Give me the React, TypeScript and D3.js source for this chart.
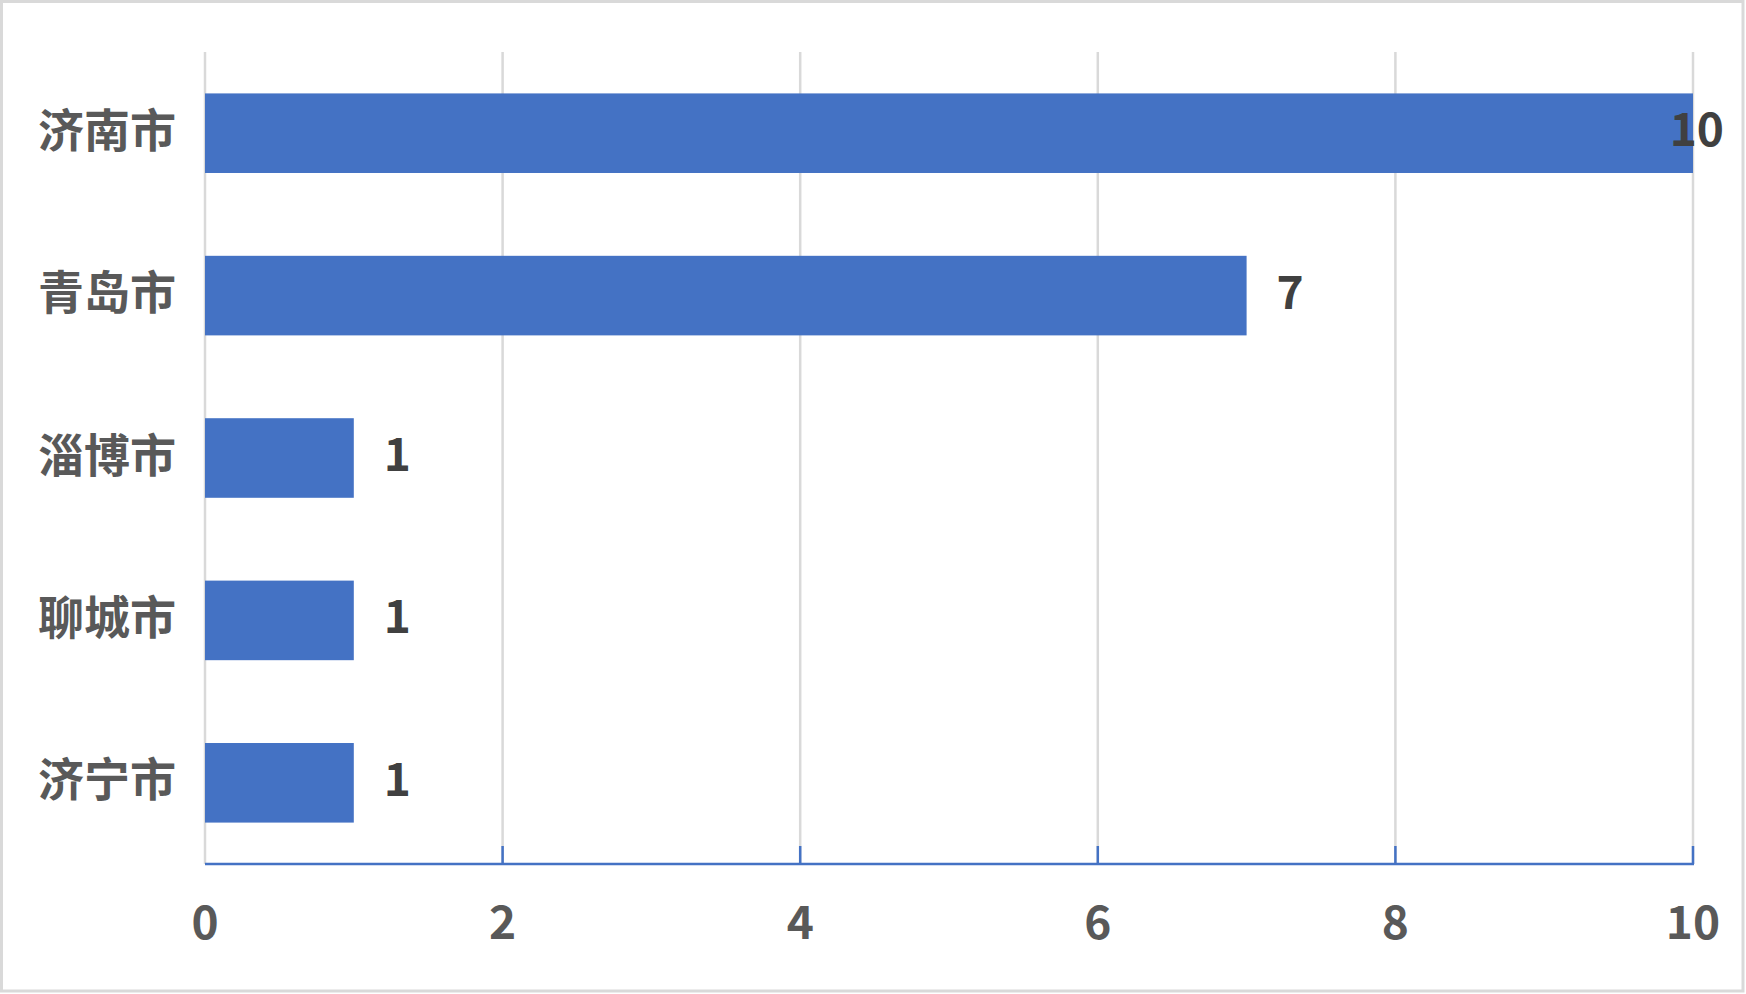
import * as d3 from "d3";
import React, { useEffect, useRef } from "react";

const cities = ["济南市", "青岛市", "淄博市", "聊城市", "济宁市"];
const counts = [10, 7, 1, 1, 1];
const xTicks = [0, 2, 4, 6, 8, 10];

const W = 1746;
const H = 994;
const FONT = "'Noto Sans CJK SC', 'Noto Sans', sans-serif";

export default function App() {
  const ref = useRef<SVGSVGElement>(null);

  useEffect(() => {
    document.body.style.margin = "0";
    const svg = d3.select(ref.current);
    svg.selectAll("*").remove();

    // outer frame
    svg
      .append("rect")
      .attr("x", 1.5)
      .attr("y", 1.5)
      .attr("width", W - 4.5)
      .attr("height", H - 4.5)
      .attr("fill", "white")
      .attr("stroke", "#d9d9d9")
      .attr("stroke-width", 3);

    const plot = { left: 205, right: 1693, top: 52, bottom: 864 };

    const x = d3.scaleLinear().domain([0, 10]).range([plot.left, plot.right]);
    const y = d3
      .scaleBand()
      .domain(cities)
      .range([plot.top, plot.bottom])
      .paddingInner(0.51)
      .paddingOuter(0.255);

    // vertical gridlines
    svg
      .append("g")
      .selectAll("line")
      .data(xTicks)
      .enter()
      .append("line")
      .attr("x1", (d) => x(d))
      .attr("x2", (d) => x(d))
      .attr("y1", plot.top)
      .attr("y2", plot.bottom)
      .attr("stroke", "#d9d9d9")
      .attr("stroke-width", 2.5);

    // bars
    svg
      .append("g")
      .selectAll("rect")
      .data(cities)
      .enter()
      .append("rect")
      .attr("x", x(0))
      .attr("y", (d) => y(d))
      .attr("width", (d, i) => x(counts[i]) - x(0))
      .attr("height", y.bandwidth())
      .attr("fill", "#4472c4");

    // x axis line + inner ticks (none at the origin)
    const ax = svg.append("g");
    ax.append("line")
      .attr("x1", plot.left)
      .attr("x2", plot.right + 1)
      .attr("y1", plot.bottom)
      .attr("y2", plot.bottom)
      .attr("stroke", "#4472c4")
      .attr("stroke-width", 2.5);
    ax.selectAll("line.tick")
      .data(xTicks.filter((d) => d > 0))
      .enter()
      .append("line")
      .attr("class", "tick")
      .attr("x1", (d) => x(d))
      .attr("x2", (d) => x(d))
      .attr("y1", plot.bottom - 18)
      .attr("y2", plot.bottom)
      .attr("stroke", "#4472c4")
      .attr("stroke-width", 2.5);

    // tick labels
    svg
      .append("g")
      .selectAll("text")
      .data(xTicks)
      .enter()
      .append("text")
      .attr("x", (d) => x(d))
      .attr("y", 918.5)
      .attr("text-anchor", "middle")
      .attr("dominant-baseline", "central")
      .attr("font-family", FONT)
      .attr("font-weight", "bold")
      .attr("font-size", 46)
      .attr("fill", "#595959")
      .text((d) => d);

    // category labels
    svg
      .append("g")
      .selectAll("text")
      .data(cities)
      .enter()
      .append("text")
      .attr("x", 176)
      .attr("y", (d) => y(d)! + y.bandwidth() / 2 - 6.5)
      .attr("text-anchor", "end")
      .attr("dominant-baseline", "central")
      .attr("font-family", FONT)
      .attr("font-weight", "bold")
      .attr("font-size", 46)
      .attr("fill", "#595959")
      .text((d) => d);

    // value labels (pushed back inside when they would leave the chart)
    const maxRight = 1724;
    svg
      .append("g")
      .selectAll("text")
      .data(cities)
      .enter()
      .append("text")
      .each(function (d, i) {
        const label = String(counts[i]);
        const start = x(counts[i]) + 30;
        const est = label.length * 0.55 * 46;
        const sel = d3.select(this);
        if (start + est > maxRight) {
          sel.attr("x", maxRight).attr("text-anchor", "end");
        } else {
          sel.attr("x", start).attr("text-anchor", "start");
        }
        sel.text(label);
      })
      .attr("y", (d) => y(d)! + y.bandwidth() / 2 - 7)
      .attr("dominant-baseline", "central")
      .attr("font-family", FONT)
      .attr("font-weight", "bold")
      .attr("font-size", 46)
      .attr("fill", "#404040");
  }, []);

  return <svg ref={ref} width={W} height={H} style={{ display: "block" }} />;
}
